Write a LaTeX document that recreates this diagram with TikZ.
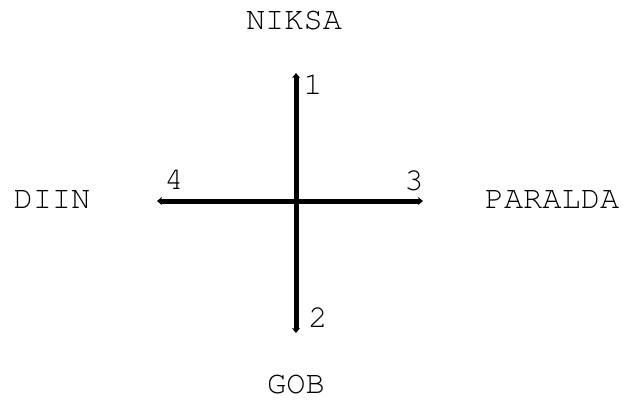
\documentclass[tikz,border=0pt]{standalone}
\usepackage[T1]{fontenc}
\usepackage{courier}
\usetikzlibrary{arrows.meta}

\tikzset{
	axis/.style={line width=5pt,{Stealth[length=5pt,width=8pt]}-{Stealth[length=5pt,width=8pt]}},
	quarter/.style={font=\ttfamily\fontsize{32}{36}\selectfont},
	num/.style={font=\ttfamily\fontsize{32}{36}\selectfont,inner sep=0pt},
}

\begin{document}
\begin{tikzpicture}[x=1pt,y=-1pt]
	\useasboundingbox (0,0) rectangle (623,400);
	% ends of the cross
	\coordinate (e1) at (296,73);
	\coordinate (e2) at (296,333);
	\coordinate (e3) at (423,201);
	\coordinate (e4) at (157,201);
	\draw[axis] (e1) -- (e2);
	\draw[axis] (e4) -- (e3);
	% numbers
	\node[num] (n1) at (313,84) {1};
	\node[num] (n2) at (318,317) {2};
	\node[num] (n3) at (414,181) {3};
	\node[num] (n4) at (174,179) {4};
	% quarters
	\node[quarter] (niksa) at (294,20) {NIKSA};
	\node[quarter] (gob) at (296,384) {GOB};
	\node[quarter] (diin) at (52,200) {DIIN};
	\node[quarter] (paralda) at (552,200) {PARALDA};
\end{tikzpicture}
\end{document}
